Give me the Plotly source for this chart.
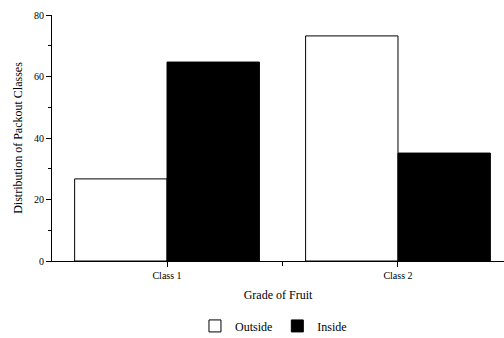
import plotly.graph_objects as go

categories = ["Class 1", "Class 2"]
positions = [1, 2]
outside = [26.7, 73.2]
inside = [64.7, 35.1]

font = "Liberation Serif, Times New Roman, serif"

fig = go.Figure()
fig.add_bar(x=positions, y=outside, name="Outside",
            marker=dict(color="white", line=dict(color="black", width=1)))
fig.add_bar(x=positions, y=inside, name="Inside",
            marker=dict(color="black", line=dict(color="black", width=1)))

fig.update_layout(
    width=504, height=338,
    margin=dict(l=52, r=0, t=15, b=77, autoexpand=False),
    paper_bgcolor="white", plot_bgcolor="white",
    barmode="group", bargap=0.2, bargroupgap=0,
    font=dict(family=font, size=10, color="black"),
    showlegend=True,
    legend=dict(orientation="h", x=0.49, xanchor="center", y=-0.205, yanchor="top",
                font=dict(family=font, size=12), traceorder="normal",
                itemwidth=30, tracegroupgap=0),
    xaxis=dict(
        range=[0.502, 2.459], tickvals=positions, ticktext=categories,
        automargin=False,
        showline=True, linecolor="black", linewidth=1,
        ticks="outside", ticklen=5, tickcolor="black",
        showgrid=False, zeroline=False,
        minor=dict(tickvals=[1.5], ticks="outside", ticklen=4, tickcolor="black"),
        title=dict(text="Grade of Fruit", font=dict(family=font, size=12), standoff=10),
    ),
    yaxis=dict(
        range=[0, 80], dtick=20, automargin=False,
        showline=True, linecolor="black", linewidth=1,
        ticks="outside", ticklen=5, tickcolor="black",
        showgrid=False, zeroline=False,
        minor=dict(dtick=10, ticks="outside", ticklen=3, tickcolor="black"),
        title=dict(text="Distribution of Packout Classes", font=dict(family=font, size=12), standoff=8),
    ),
)

fig.write_html("out.html", config={"displayModeBar": False},
               post_script="document.body.style.margin='0';document.body.style.overflow='hidden';")
